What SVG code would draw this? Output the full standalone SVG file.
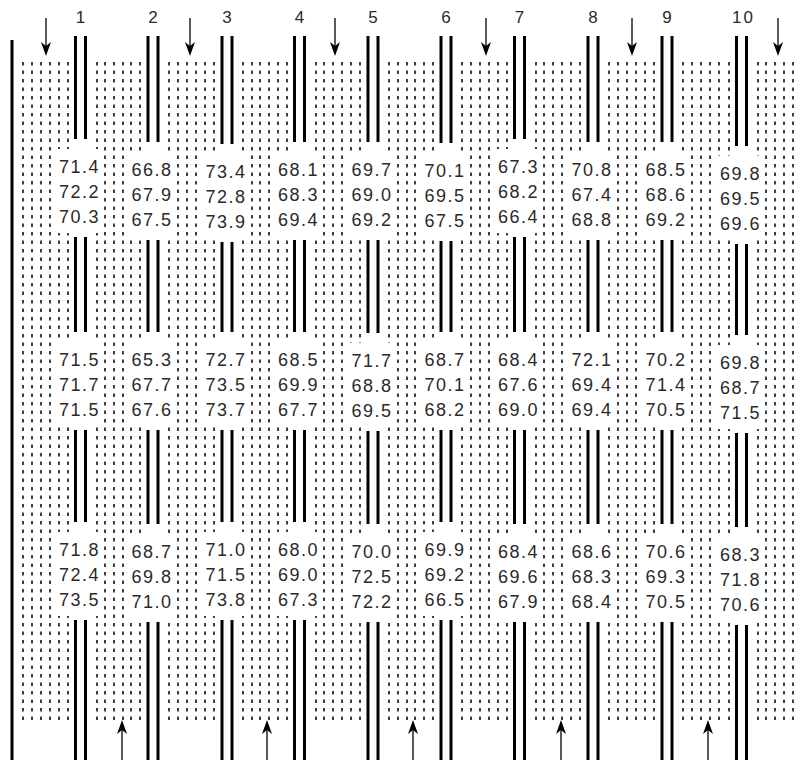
<svg xmlns="http://www.w3.org/2000/svg" width="800" height="760" viewBox="0 0 800 760">
<style>
.bar{stroke:#000;stroke-width:3;fill:none}
.dot{stroke:#111;stroke-width:1.6;stroke-dasharray:3.5 5;fill:none}
.box{fill:#fff}
.v{font-family:"Liberation Sans",Arial,sans-serif;font-size:18px;letter-spacing:1.5px;text-anchor:middle;fill:#2a2a2a}
.lbl{font-family:"Liberation Sans",Arial,sans-serif;font-size:17px;letter-spacing:2px;text-anchor:middle;fill:#2a2a2a}
.shaft{stroke:#000;stroke-width:1.3}
.head{fill:#000}
</style>
<rect width="800" height="760" fill="#fff"/>
<g id="dots">
<line class="dot" x1="23" y1="62" x2="23" y2="723"/><line class="dot" x1="32" y1="62" x2="32" y2="723"/><line class="dot" x1="41" y1="62" x2="41" y2="723"/><line class="dot" x1="50" y1="62" x2="50" y2="723"/><line class="dot" x1="59" y1="62" x2="59" y2="723"/><line class="dot" x1="68" y1="62" x2="68" y2="723"/>
<line class="dot" x1="97" y1="62" x2="97" y2="723"/><line class="dot" x1="105" y1="62" x2="105" y2="723"/><line class="dot" x1="114" y1="62" x2="114" y2="723"/><line class="dot" x1="123" y1="62" x2="123" y2="723"/><line class="dot" x1="131" y1="62" x2="131" y2="723"/><line class="dot" x1="140" y1="62" x2="140" y2="723"/>
<line class="dot" x1="169" y1="62" x2="169" y2="723"/><line class="dot" x1="178" y1="62" x2="178" y2="723"/><line class="dot" x1="187" y1="62" x2="187" y2="723"/><line class="dot" x1="196" y1="62" x2="196" y2="723"/><line class="dot" x1="205" y1="62" x2="205" y2="723"/><line class="dot" x1="214" y1="62" x2="214" y2="723"/>
<line class="dot" x1="243" y1="62" x2="243" y2="723"/><line class="dot" x1="252" y1="62" x2="252" y2="723"/><line class="dot" x1="260" y1="62" x2="260" y2="723"/><line class="dot" x1="269" y1="62" x2="269" y2="723"/><line class="dot" x1="278" y1="62" x2="278" y2="723"/><line class="dot" x1="287" y1="62" x2="287" y2="723"/>
<line class="dot" x1="316" y1="62" x2="316" y2="723"/><line class="dot" x1="324" y1="62" x2="324" y2="723"/><line class="dot" x1="333" y1="62" x2="333" y2="723"/><line class="dot" x1="342" y1="62" x2="342" y2="723"/><line class="dot" x1="351" y1="62" x2="351" y2="723"/><line class="dot" x1="360" y1="62" x2="360" y2="723"/>
<line class="dot" x1="389" y1="62" x2="389" y2="723"/><line class="dot" x1="398" y1="62" x2="398" y2="723"/><line class="dot" x1="407" y1="62" x2="407" y2="723"/><line class="dot" x1="415" y1="62" x2="415" y2="723"/><line class="dot" x1="424" y1="62" x2="424" y2="723"/><line class="dot" x1="433" y1="62" x2="433" y2="723"/>
<line class="dot" x1="462" y1="62" x2="462" y2="723"/><line class="dot" x1="471" y1="62" x2="471" y2="723"/><line class="dot" x1="480" y1="62" x2="480" y2="723"/><line class="dot" x1="489" y1="62" x2="489" y2="723"/><line class="dot" x1="498" y1="62" x2="498" y2="723"/><line class="dot" x1="507" y1="62" x2="507" y2="723"/>
<line class="dot" x1="536" y1="62" x2="536" y2="723"/><line class="dot" x1="544" y1="62" x2="544" y2="723"/><line class="dot" x1="553" y1="62" x2="553" y2="723"/><line class="dot" x1="562" y1="62" x2="562" y2="723"/><line class="dot" x1="571" y1="62" x2="571" y2="723"/><line class="dot" x1="580" y1="62" x2="580" y2="723"/>
<line class="dot" x1="609" y1="62" x2="609" y2="723"/><line class="dot" x1="618" y1="62" x2="618" y2="723"/><line class="dot" x1="627" y1="62" x2="627" y2="723"/><line class="dot" x1="636" y1="62" x2="636" y2="723"/><line class="dot" x1="645" y1="62" x2="645" y2="723"/><line class="dot" x1="654" y1="62" x2="654" y2="723"/>
<line class="dot" x1="683" y1="62" x2="683" y2="723"/><line class="dot" x1="692" y1="62" x2="692" y2="723"/><line class="dot" x1="701" y1="62" x2="701" y2="723"/><line class="dot" x1="710" y1="62" x2="710" y2="723"/><line class="dot" x1="719" y1="62" x2="719" y2="723"/><line class="dot" x1="729" y1="62" x2="729" y2="723"/>
<line class="dot" x1="758" y1="62" x2="758" y2="723"/><line class="dot" x1="766" y1="62" x2="766" y2="723"/><line class="dot" x1="775" y1="62" x2="775" y2="723"/><line class="dot" x1="784" y1="62" x2="784" y2="723"/><line class="dot" x1="793" y1="62" x2="793" y2="723"/>
</g>
<g id="wall"><line class="bar" x1="12" y1="40" x2="12" y2="760"/></g>
<g id="boxes">
<rect class="box" x="56" y="149" width="46" height="84"/><rect class="box" x="56" y="342" width="46" height="84"/><rect class="box" x="56" y="532" width="46" height="84"/>
<rect class="box" x="128.5" y="152" width="46" height="84"/><rect class="box" x="128.5" y="342" width="46" height="84"/><rect class="box" x="128.5" y="534" width="46" height="84"/>
<rect class="box" x="202.5" y="154" width="46" height="84"/><rect class="box" x="202.5" y="342" width="46" height="84"/><rect class="box" x="202.5" y="532" width="46" height="84"/>
<rect class="box" x="275" y="152" width="46" height="84"/><rect class="box" x="275" y="342" width="46" height="84"/><rect class="box" x="275" y="532" width="46" height="84"/>
<rect class="box" x="348.5" y="152" width="46" height="84"/><rect class="box" x="348.5" y="343" width="46" height="84"/><rect class="box" x="348.5" y="534" width="46" height="84"/>
<rect class="box" x="421.5" y="153" width="46" height="84"/><rect class="box" x="421.5" y="342" width="46" height="84"/><rect class="box" x="421.5" y="532" width="46" height="84"/>
<rect class="box" x="495" y="149" width="46" height="84"/><rect class="box" x="495" y="342" width="46" height="84"/><rect class="box" x="495" y="534" width="46" height="84"/>
<rect class="box" x="568.5" y="152" width="46" height="84"/><rect class="box" x="568.5" y="342" width="46" height="84"/><rect class="box" x="568.5" y="534" width="46" height="84"/>
<rect class="box" x="642.5" y="152" width="46" height="84"/><rect class="box" x="642.5" y="342" width="46" height="84"/><rect class="box" x="642.5" y="534" width="46" height="84"/>
<rect class="box" x="717" y="156" width="46" height="84"/><rect class="box" x="717" y="345" width="46" height="84"/><rect class="box" x="717" y="537" width="46" height="84"/>
</g>
<g id="col-1">
<path class="bar" d="M75.5 36V139M85.5 36V139M75.5 237V332M85.5 237V332M75.5 430V522M85.5 430V522M75.5 620V760M85.5 620V760"/>
<text class="lbl" x="81.5" y="23">1</text>
<text class="v" x="79.5" y="172.5">71.4</text><text class="v" x="79.5" y="197.5">72.2</text><text class="v" x="79.5" y="222.5">70.3</text>
<text class="v" x="79.5" y="365.5">71.5</text><text class="v" x="79.5" y="390.5">71.7</text><text class="v" x="79.5" y="415.5">71.5</text>
<text class="v" x="79.5" y="555.5">71.8</text><text class="v" x="79.5" y="580.5">72.4</text><text class="v" x="79.5" y="605.5">73.5</text>
</g>
<g id="col-2">
<path class="bar" d="M148 36V142M158 36V142M148 240V332M158 240V332M148 430V524M158 430V524M148 622V760M158 622V760"/>
<text class="lbl" x="154" y="23">2</text>
<text class="v" x="152" y="175.5">66.8</text><text class="v" x="152" y="200.5">67.9</text><text class="v" x="152" y="225.5">67.5</text>
<text class="v" x="152" y="365.5">65.3</text><text class="v" x="152" y="390.5">67.7</text><text class="v" x="152" y="415.5">67.6</text>
<text class="v" x="152" y="557.5">68.7</text><text class="v" x="152" y="582.5">69.8</text><text class="v" x="152" y="607.5">71.0</text>
</g>
<g id="col-3">
<path class="bar" d="M222 36V144M232 36V144M222 242V332M232 242V332M222 430V522M232 430V522M222 620V760M232 620V760"/>
<text class="lbl" x="228" y="23">3</text>
<text class="v" x="226" y="177.5">73.4</text><text class="v" x="226" y="202.5">72.8</text><text class="v" x="226" y="227.5">73.9</text>
<text class="v" x="226" y="365.5">72.7</text><text class="v" x="226" y="390.5">73.5</text><text class="v" x="226" y="415.5">73.7</text>
<text class="v" x="226" y="555.5">71.0</text><text class="v" x="226" y="580.5">71.5</text><text class="v" x="226" y="605.5">73.8</text>
</g>
<g id="col-4">
<path class="bar" d="M294.5 36V142M304.5 36V142M294.5 240V332M304.5 240V332M294.5 430V522M304.5 430V522M294.5 620V760M304.5 620V760"/>
<text class="lbl" x="300.5" y="23">4</text>
<text class="v" x="298.5" y="175.5">68.1</text><text class="v" x="298.5" y="200.5">68.3</text><text class="v" x="298.5" y="225.5">69.4</text>
<text class="v" x="298.5" y="365.5">68.5</text><text class="v" x="298.5" y="390.5">69.9</text><text class="v" x="298.5" y="415.5">67.7</text>
<text class="v" x="298.5" y="555.5">68.0</text><text class="v" x="298.5" y="580.5">69.0</text><text class="v" x="298.5" y="605.5">67.3</text>
</g>
<g id="col-5">
<path class="bar" d="M368 36V142M378 36V142M368 240V333M378 240V333M368 431V524M378 431V524M368 622V760M378 622V760"/>
<text class="lbl" x="374" y="23">5</text>
<text class="v" x="372" y="175.5">69.7</text><text class="v" x="372" y="200.5">69.0</text><text class="v" x="372" y="225.5">69.2</text>
<text class="v" x="372" y="366.5">71.7</text><text class="v" x="372" y="391.5">68.8</text><text class="v" x="372" y="416.5">69.5</text>
<text class="v" x="372" y="557.5">70.0</text><text class="v" x="372" y="582.5">72.5</text><text class="v" x="372" y="607.5">72.2</text>
</g>
<g id="col-6">
<path class="bar" d="M441 36V143M451 36V143M441 241V332M451 241V332M441 430V522M451 430V522M441 620V760M451 620V760"/>
<text class="lbl" x="447" y="23">6</text>
<text class="v" x="445" y="176.5">70.1</text><text class="v" x="445" y="201.5">69.5</text><text class="v" x="445" y="226.5">67.5</text>
<text class="v" x="445" y="365.5">68.7</text><text class="v" x="445" y="390.5">70.1</text><text class="v" x="445" y="415.5">68.2</text>
<text class="v" x="445" y="555.5">69.9</text><text class="v" x="445" y="580.5">69.2</text><text class="v" x="445" y="605.5">66.5</text>
</g>
<g id="col-7">
<path class="bar" d="M514.5 36V139M524.5 36V139M514.5 237V332M524.5 237V332M514.5 430V524M524.5 430V524M514.5 622V760M524.5 622V760"/>
<text class="lbl" x="520.5" y="23">7</text>
<text class="v" x="518.5" y="172.5">67.3</text><text class="v" x="518.5" y="197.5">68.2</text><text class="v" x="518.5" y="222.5">66.4</text>
<text class="v" x="518.5" y="365.5">68.4</text><text class="v" x="518.5" y="390.5">67.6</text><text class="v" x="518.5" y="415.5">69.0</text>
<text class="v" x="518.5" y="557.5">68.4</text><text class="v" x="518.5" y="582.5">69.6</text><text class="v" x="518.5" y="607.5">67.9</text>
</g>
<g id="col-8">
<path class="bar" d="M588 36V142M598 36V142M588 240V332M598 240V332M588 430V524M598 430V524M588 622V760M598 622V760"/>
<text class="lbl" x="594" y="23">8</text>
<text class="v" x="592" y="175.5">70.8</text><text class="v" x="592" y="200.5">67.4</text><text class="v" x="592" y="225.5">68.8</text>
<text class="v" x="592" y="365.5">72.1</text><text class="v" x="592" y="390.5">69.4</text><text class="v" x="592" y="415.5">69.4</text>
<text class="v" x="592" y="557.5">68.6</text><text class="v" x="592" y="582.5">68.3</text><text class="v" x="592" y="607.5">68.4</text>
</g>
<g id="col-9">
<path class="bar" d="M662 36V142M672 36V142M662 240V332M672 240V332M662 430V524M672 430V524M662 622V760M672 622V760"/>
<text class="lbl" x="668" y="23">9</text>
<text class="v" x="666" y="175.5">68.5</text><text class="v" x="666" y="200.5">68.6</text><text class="v" x="666" y="225.5">69.2</text>
<text class="v" x="666" y="365.5">70.2</text><text class="v" x="666" y="390.5">71.4</text><text class="v" x="666" y="415.5">70.5</text>
<text class="v" x="666" y="557.5">70.6</text><text class="v" x="666" y="582.5">69.3</text><text class="v" x="666" y="607.5">70.5</text>
</g>
<g id="col-10">
<path class="bar" d="M736.5 36V146M746.5 36V146M736.5 244V335M746.5 244V335M736.5 433V527M746.5 433V527M736.5 625V760M746.5 625V760"/>
<text class="lbl" x="743.5" y="23">10</text>
<text class="v" x="740.5" y="179.5">69.8</text><text class="v" x="740.5" y="204.5">69.5</text><text class="v" x="740.5" y="229.5">69.6</text>
<text class="v" x="740.5" y="368.5">69.8</text><text class="v" x="740.5" y="393.5">68.7</text><text class="v" x="740.5" y="418.5">71.5</text>
<text class="v" x="740.5" y="560.5">68.3</text><text class="v" x="740.5" y="585.5">71.8</text><text class="v" x="740.5" y="610.5">70.6</text>
</g>
<g id="arrows">
<line class="shaft" x1="46" y1="18" x2="46" y2="48"/><polygon class="head" points="46,56 41,42 46,46 51,42"/>
<line class="shaft" x1="190" y1="18" x2="190" y2="48"/><polygon class="head" points="190,56 185,42 190,46 195,42"/>
<line class="shaft" x1="335" y1="18" x2="335" y2="48"/><polygon class="head" points="335,56 330,42 335,46 340,42"/>
<line class="shaft" x1="486" y1="18" x2="486" y2="48"/><polygon class="head" points="486,56 481,42 486,46 491,42"/>
<line class="shaft" x1="632" y1="18" x2="632" y2="48"/><polygon class="head" points="632,56 627,42 632,46 637,42"/>
<line class="shaft" x1="778" y1="18" x2="778" y2="48"/><polygon class="head" points="778,56 773,42 778,46 783,42"/>
<line class="shaft" x1="122" y1="728" x2="122" y2="760"/><polygon class="head" points="122,720 117,734 122,730 127,734"/>
<line class="shaft" x1="267" y1="728" x2="267" y2="760"/><polygon class="head" points="267,720 262,734 267,730 272,734"/>
<line class="shaft" x1="413" y1="728" x2="413" y2="760"/><polygon class="head" points="413,720 408,734 413,730 418,734"/>
<line class="shaft" x1="561" y1="728" x2="561" y2="760"/><polygon class="head" points="561,720 556,734 561,730 566,734"/>
<line class="shaft" x1="708" y1="728" x2="708" y2="760"/><polygon class="head" points="708,720 703,734 708,730 713,734"/>
</g>
</svg>
